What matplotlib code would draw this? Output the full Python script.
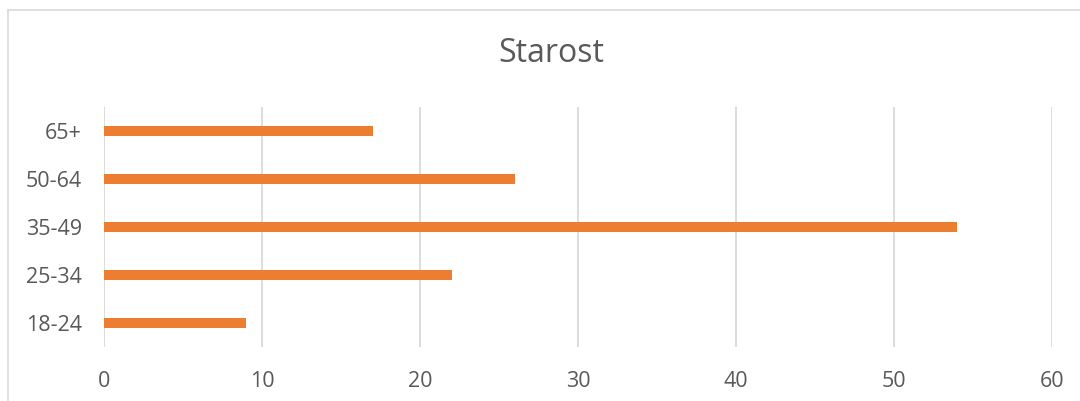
import matplotlib
matplotlib.use("Agg")
import matplotlib.pyplot as plt
from matplotlib.patches import Rectangle

categories = ["18-24", "25-34", "35-49", "50-64", "65+"]
values = [9, 22, 54, 26, 17]
xticks = [0, 10, 20, 30, 40, 50, 60]

TEXT = "#595959"
GRID = "#d9d9d9"
ORANGE = "#ED7D31"

plt.rcParams["font.family"] = ["Open Sans", "DejaVu Sans"]

fig = plt.figure(figsize=(10.8, 4.01), dpi=100)
ax = fig.add_axes([104 / 1080, 54 / 401, 948 / 1080, 240 / 401])

ax.barh(categories, values, height=0.2, color=ORANGE, zorder=3)
ax.set_xlim(0, 60)
ax.set_ylim(-0.5, 4.5)
ax.set_xticks(xticks)
ax.grid(True, axis="x", color=GRID, linewidth=1.3, zorder=0)
for s in ax.spines.values():
    s.set_visible(False)
ax.tick_params(length=0, labelsize=15.5, colors=TEXT)
ax.tick_params(axis="x", pad=17)
ax.tick_params(axis="y", pad=16)

fig.text(551 / 1080, 1 - 53 / 401, "Starost", ha="center", va="center",
         fontsize=23, color=TEXT)

# chart frame
fig.patches.append(Rectangle((8 / 1080, -0.1), 1.2, 1 - 10 / 401 + 0.1,
                             transform=fig.transFigure, fill=False,
                             edgecolor=GRID, linewidth=1.2))

fig.savefig("out.png", dpi=100)
